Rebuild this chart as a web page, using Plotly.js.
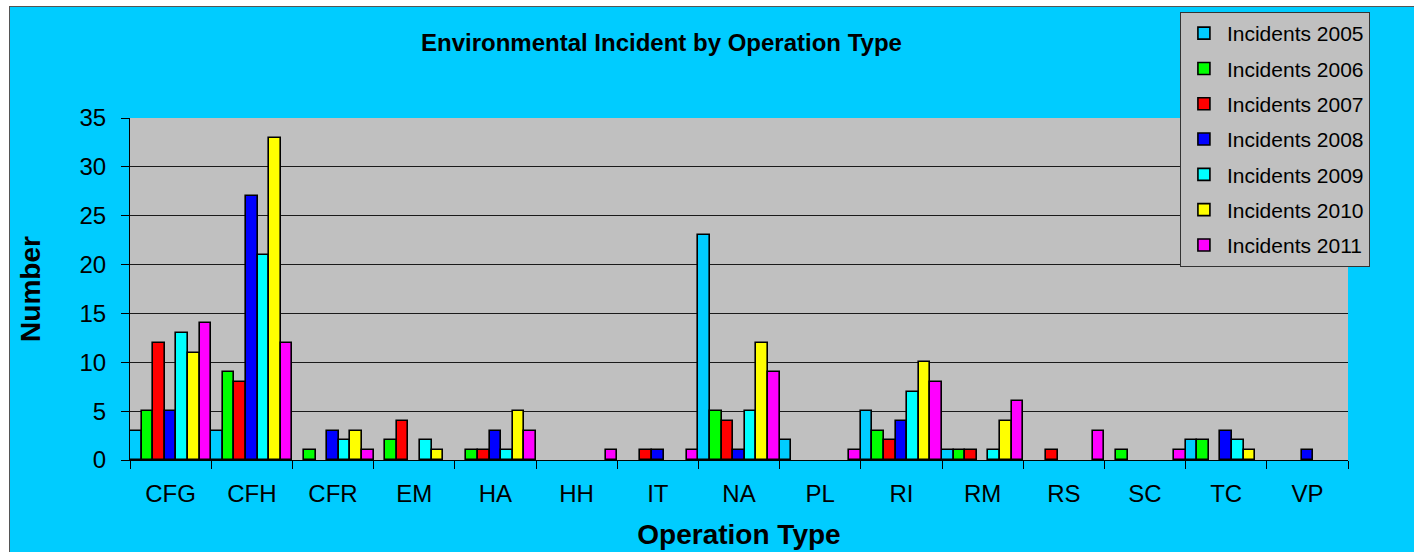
<!DOCTYPE html>
<html>
<head>
<meta charset="utf-8">
<script src="https://cdn.plot.ly/plotly-3.0.1.min.js"></script>
<style>
  html, body { margin: 0; padding: 0; background: #ffffff; }
  #frame { position: absolute; left: 9px; top: 6px; width: 1405px; height: 546px; background: #555555; }
  #chart { position: absolute; left: 1px; top: 1px; width: 1404px; height: 545px; }
</style>
</head>
<body>
<div id="frame"><div id="chart"></div></div>
<script>
const categories = ["CFG","CFH","CFR","EM","HA","HH","IT","NA","PL","RI","RM","RS","SC","TC","VP"];
const seriesNames = ["Incidents 2005","Incidents 2006","Incidents 2007","Incidents 2008","Incidents 2009","Incidents 2010","Incidents 2011"];
const incidents2005 = [3, 3, 0, 0, 0, 0, 0, 23, 2, 5, 1, 0, 0, 2, 0];
const incidents2006 = [5, 9, 1, 2, 1, 0, 0, 5, 0, 3, 1, 0, 1, 2, 0];
const incidents2007 = [12, 8, 0, 4, 1, 0, 1, 4, 0, 2, 1, 1, 0, 0, 0];
const incidents2008 = [5, 27, 3, 0, 3, 0, 1, 1, 0, 4, 0, 0, 0, 3, 1];
const incidents2009 = [13, 21, 2, 2, 1, 0, 0, 5, 0, 7, 1, 0, 0, 2, 0];
const incidents2010 = [11, 33, 3, 1, 5, 0, 0, 12, 0, 10, 4, 0, 0, 1, 0];
const incidents2011 = [14, 12, 1, 0, 3, 1, 1, 9, 1, 8, 6, 3, 1, 0, 0];
const colors = ["#00CCFF","#00FF00","#FF0000","#0000FF","#00FFFF","#FFFF00","#FF00FF"];

const allSeries = [incidents2005, incidents2006, incidents2007, incidents2008, incidents2009, incidents2010, incidents2011];
const FONT = "Liberation Sans, Arial, sans-serif";

// Zero values are not drawn as bars (as in the original spreadsheet chart)
const traces = allSeries.map((vals, i) => ({
  type: "bar",
  name: seriesNames[i],
  legendgroup: "g" + i,
  x: categories,
  y: vals.map(v => (v === 0 ? null : v)),
  customdata: vals,
  marker: { color: colors[i], line: { color: "#000000", width: 1.6 } },
  hovertemplate: "%{x}: %{customdata}<extra>" + seriesNames[i] + "</extra>"
}));

const layout = {
  width: 1404,
  height: 545,
  paper_bgcolor: "#00CCFF",
  plot_bgcolor: "#C0C0C0",
  margin: { l: 120, r: 66, t: 111, b: 92, autoexpand: false },
  barmode: "group",
  bargap: 0,
  bargroupgap: 0,
  font: { family: FONT, color: "#000000" },
  title: {
    text: "<b>Environmental Incident by Operation Type</b>",
    font: { family: FONT, size: 24, color: "#000000" },
    x: 0.464, xref: "container", xanchor: "center",
    y: 0.934, yref: "container", yanchor: "middle"
  },
  xaxis: {
    type: "category",
    showline: true, linecolor: "#000000", linewidth: 1,
    ticks: "outside", ticklen: 8, tickcolor: "#000000", tickwidth: 1,
    tickson: "boundaries",
    ticklabelstandoff: 12,
    tickfont: { family: FONT, size: 24, color: "#000000" },
    showgrid: false,
    title: { text: "<b>Operation Type</b>", font: { family: FONT, size: 28, color: "#000000" }, standoff: 18 }
  },
  yaxis: {
    range: [0, 35],
    dtick: 5,
    showline: true, linecolor: "#000000", linewidth: 1,
    ticks: "outside", ticklen: 8, tickcolor: "#000000", tickwidth: 1,
    ticklabelstandoff: 10,
    tickfont: { family: FONT, size: 24, color: "#000000" },
    showgrid: true, gridcolor: "#1a1a1a", gridwidth: 1,
    zeroline: false,
    title: { text: "<b>Number</b>", font: { family: FONT, size: 28, color: "#000000" }, standoff: 30 }
  },
  legend: {
    x: 0.862, xanchor: "left",
    y: 1.31, yanchor: "top",
    bgcolor: "#C0C0C0",
    bordercolor: "#333333",
    borderwidth: 1,
    font: { family: FONT, size: 21, color: "#000000" },
    tracegroupgap: 5,
    traceorder: "grouped",
    itemwidth: 36,
    entrywidth: 190,
    entrywidthmode: "pixels"
  },
  showlegend: true
};

Plotly.newPlot("chart", traces, layout, { displayModeBar: false, responsive: false });
</script>
</body>
</html>
